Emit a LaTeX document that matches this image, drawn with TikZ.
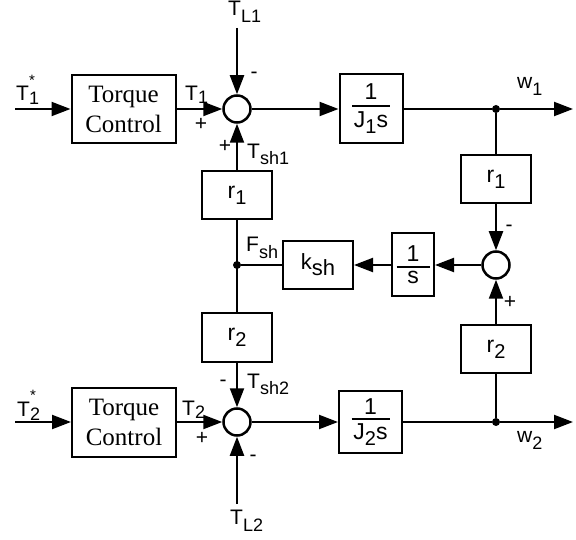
\documentclass[tikz,border=0pt]{standalone}
\usepackage{fontspec}
\setmainfont{Liberation Sans}
\newfontfamily\serifTC{Liberation Serif}
\usetikzlibrary{arrows.meta}
\newcommand\sub[1]{\raisebox{-6pt}{\fontsize{20}{20}\selectfont #1}}
\newcommand\esub[2][6pt]{\raisebox{-#1}{\fontsize{18}{18}\selectfont #2}}
\newcommand\frc[4]{\vbox{\offinterlineskip\halign{\hfil##\hfil\cr #2\cr\noalign{\kern#4}\rule{#1}{2pt}\cr\noalign{\kern#4}#3\cr}}}
\tikzset{
  blk/.style={draw, line width=2pt, inner sep=0pt, font=\fontsize{23}{25}\selectfont},
  tcbox/.style={draw, line width=2pt, inner sep=0pt, align=center,
    font=\serifTC\fontsize{25}{30}\selectfont, minimum width=104pt, minimum height=68pt},
  sumc/.style={draw, circle, line width=2.5pt, minimum size=27pt, inner sep=0pt},
  arr/.style={line width=2.1pt, -{Triangle[length=19pt,width=14pt]}},
  ln/.style={line width=2.1pt},
  jdot/.style={circle, fill, inner sep=0pt, minimum size=8pt},
  lbl/.style={font=\fontsize{21}{23}\selectfont, inner sep=0pt, anchor=base west},
  sgn/.style={font=\fontsize{21}{22}\selectfont, inner sep=0pt},
  star/.style={font=\fontsize{15}{15}\selectfont, inner sep=0pt, anchor=south}
}
\begin{document}
\begin{tikzpicture}[x=1pt,y=-1pt]
\useasboundingbox (0,0) rectangle (576,540);
% top row
\node[tcbox] (tc1) at (123.5,109) {Torque\\Control};
\node[sumc] (s1) at (237,109) {};
\node[blk, minimum width=63pt, minimum height=69pt] (j1) at (371,109) {\frc{38pt}{1}{J\sub{1}s}{5pt}};
\node[jdot] (d1) at (496,109) {};
\coordinate (in1) at (15,109);
\coordinate (out1) at (573,109);
\coordinate (tl1) at (237,28);
% right column
\node[blk, minimum width=70pt, minimum height=48pt] (r1r) at (496,179) {r\sub{1}};
\node[sumc] (s2) at (496,265) {};
\node[blk, minimum width=70pt, minimum height=48pt] (r2r) at (496,349) {r\sub{2}};
% middle row
\node[blk, minimum width=42pt, minimum height=63pt] (inv) at (413,265) {\frc{33pt}{1}{s}{4pt}};
\node[blk, minimum width=70pt, minimum height=48pt, font=\fontsize{22}{24}\selectfont] (ksh) at (318,265) {k\raisebox{-6pt}{\fontsize{22}{22}\selectfont sh}};
\node[jdot] (dF) at (237,265) {};
% left column
\node[blk, minimum width=70pt, minimum height=48pt] (r1l) at (237,195) {r\sub{1}};
\node[blk, minimum width=70pt, minimum height=49pt] (r2l) at (237,337.5) {r\sub{2}};
% bottom row
\node[tcbox, minimum height=69pt] (tc2) at (124,422) {Torque\\Control};
\node[sumc] (s3) at (237,422) {};
\node[blk, minimum width=63pt, minimum height=62pt] (j2) at (370.5,422) {\frc{38pt}{1}{J\sub{2}s}{4pt}};
\node[jdot] (d2) at (496,422) {};
\coordinate (in2) at (15,422);
\coordinate (out2) at (573,422);
\coordinate (tl2) at (237,504);
% connectors top
\draw[arr] (in1) -- (tc1.west);
\draw[arr] (tc1.east) -- (s1.west);
\draw[arr] (tl1) -- (s1.north);
\draw[arr] (s1.east) -- (j1.west);
\draw[ln] (j1.east) -- (d1);
\draw[arr] (d1) -- (out1);
\draw[ln] (d1) -- (r1r.north);
\draw[arr] (r1r.south) -- (s2.north);
\draw[arr] (r2r.north) -- (s2.south);
\draw[ln] (r2r.south) -- (d2);
\draw[arr] (s2.west) -- (inv.east);
\draw[arr] (inv.west) -- (ksh.east);
\draw[ln] (ksh.west) -- (dF);
\draw[arr] (r1l.north) -- (s1.south);
\draw[ln] (r1l.south) -- (r2l.north);
\draw[arr] (r2l.south) -- (s3.north);
% bottom
\draw[arr] (in2) -- (tc2.west);
\draw[arr] (tc2.east) -- (s3.west);
\draw[arr] (tl2) -- (s3.south);
\draw[arr] (s3.east) -- (j2.west);
\draw[ln] (j2.east) -- (d2);
\draw[arr] (d2) -- (out2);
% labels
\node[lbl] (lT1s) at (16,101) {T\esub[4pt]{1}};
\node[star] (st1) at (32,85.5) {*};
\node[lbl] (lT1) at (185,101) {T\esub[3pt]{1}};
\node[lbl] (lTL1) at (228,16) {T\esub[7pt]{L1}};
\node[lbl] (lTsh1) at (247,159) {T\esub{sh1}};
\node[lbl] (lw1) at (517,89) {w\esub[7pt]{1}};
\node[lbl] (lFsh) at (246,252) {F\esub{sh}};
\node[lbl] (lTsh2) at (247,388) {T\esub{sh2}};
\node[lbl] (lT2s) at (17,416) {T\esub[4pt]{2}};
\node[star] (st2) at (33,400.5) {*};
\node[lbl] (lT2) at (182,415) {T\esub[3pt]{2}};
\node[lbl] (lTL2) at (230,524) {T\esub[7pt]{L2}};
\node[lbl] (lw2) at (517,442) {w\esub[7pt]{2}};
% signs
\node[sgn] (m1) at (254,75) {-};
\node[sgn] (p1) at (201,124) {+};
\node[sgn] (p2) at (225,146) {+};
\node[sgn] (m2) at (509,228) {-};
\node[sgn] (p3) at (510,302) {+};
\node[sgn] (m3) at (223,383) {-};
\node[sgn] (p4) at (202,438) {+};
\node[sgn] (m4) at (253,458) {-};
\end{tikzpicture}
\end{document}
